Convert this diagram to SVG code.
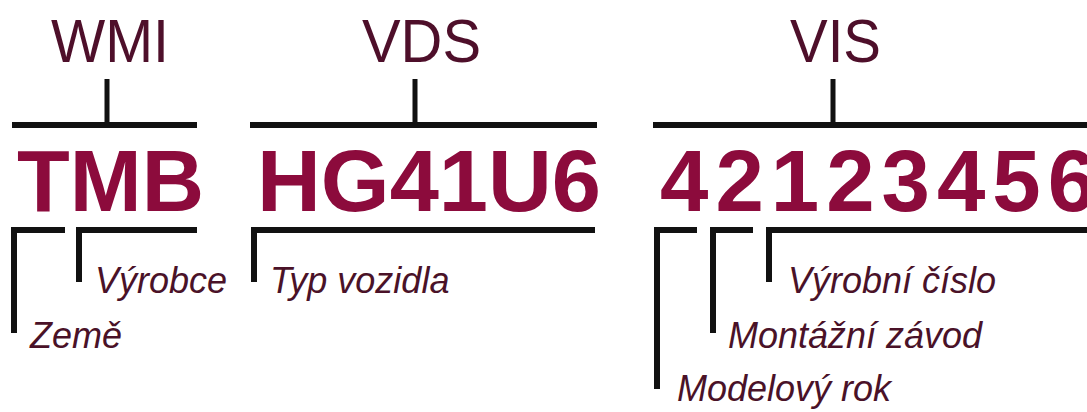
<svg xmlns="http://www.w3.org/2000/svg" width="1087" height="412" viewBox="0 0 1087 412">
<style>
.hdr{font-family:"Liberation Sans",Arial,sans-serif;font-size:62px;fill:#4e0f2a}
.code{font-family:"Liberation Sans",Arial,sans-serif;font-size:87px;font-weight:bold;fill:#8c0b3c}
.lbl{font-family:"Liberation Sans",Arial,sans-serif;font-size:36px;font-style:italic;fill:#4a1228}
.ln{stroke:#111;stroke-width:6;fill:none;stroke-linecap:butt}
.tk{stroke:#111;stroke-width:5;fill:none}
</style>
<rect width="1087" height="412" fill="#fff"/>
<g id="wmi">
<text class="hdr" x="51" y="62" textLength="118" lengthAdjust="spacingAndGlyphs">WMI</text>
</g>
<g id="vds">
<text class="hdr" x="362" y="62" textLength="119" lengthAdjust="spacingAndGlyphs">VDS</text>
</g>
<g id="vis">
<text class="hdr" x="790" y="62" textLength="91" lengthAdjust="spacingAndGlyphs">VIS</text>
</g>
<g id="code-wmi">
<text class="code" x="17" y="211" textLength="187" lengthAdjust="spacingAndGlyphs">TMB</text>
</g>
<g id="code-vds">
<text class="code" x="257" y="211" textLength="344" lengthAdjust="spacingAndGlyphs">HG41U6</text>
</g>
<g id="code-vis">
<text class="code" x="660" y="211" letter-spacing="7">42123456</text>
</g>
<g id="l-zeme"><text class="lbl" x="30" y="348">Země</text></g>
<g id="l-vyrobce"><text class="lbl" x="95" y="293">Výrobce</text></g>
<g id="l-typ"><text class="lbl" x="270" y="293">Typ vozidla</text></g>
<g id="l-vyrobni"><text class="lbl" x="788" y="293">Výrobní číslo</text></g>
<g id="l-montazni"><text class="lbl" x="728" y="348">Montážní závod</text></g>
<g id="l-model"><text class="lbl" x="677" y="401">Modelový rok</text></g>
<g id="connectors">
<path class="ln" d="M12 125H197M250 125H597M653 125H1087"/>
<path class="tk" d="M107 79V125M415 79V125M833 79V125"/>
<path class="ln" d="M14 333V230H65M79 282V230H197M254 282V230H595M657 389V230H697M713 333V230H753M769 282V230H1087"/>
</g>
</svg>
